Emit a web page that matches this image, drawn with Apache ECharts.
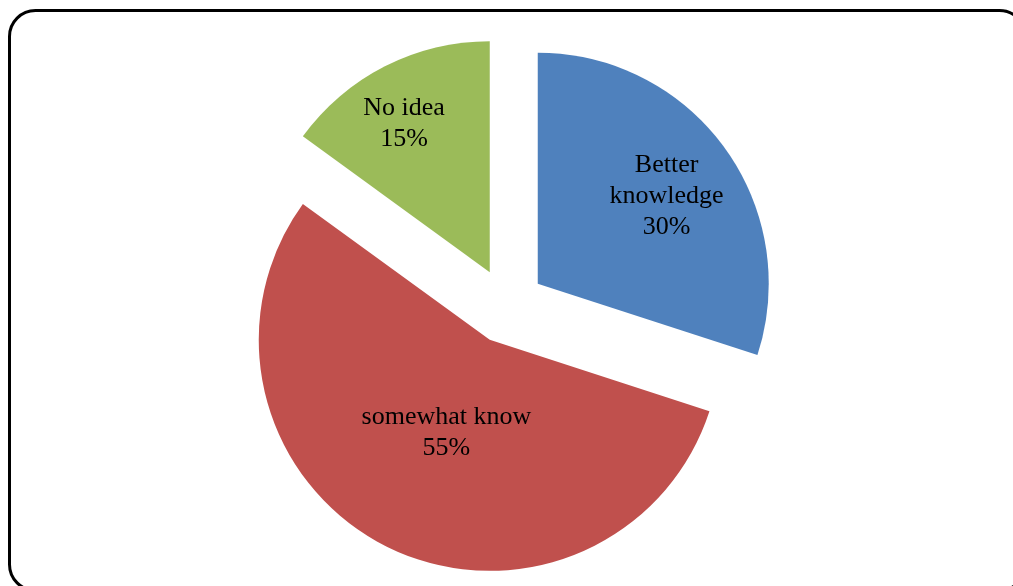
<!DOCTYPE html>
<html>
<head>
<meta charset="utf-8">
<script src="https://cdn.jsdelivr.net/npm/echarts@6/dist/echarts.min.js"></script>
<style>
  html, body { margin: 0; padding: 0; background: #ffffff; }
  #chart { width: 1013px; height: 586px; }
</style>
</head>
<body>
<div id="chart"></div>
<script>
// Survey answers and their shares (percent)
const categories = ['Better knowledge', 'somewhat know', 'No idea'];
const shares = [30, 55, 15];
const sliceColors = ['#4F81BD', '#C0504D', '#9BBB59'];

// Label placement inside each slice: distance from the slice tip (fraction of
// the radius) and direction (degrees clockwise from 12 o'clock)
const labelRadialFraction = [0.66, 0.43, 0.73];
const labelAngleDeg = [56, 205, 330];

const RADIUS = 231;
const EXPLODE = 38;

const total = shares.reduce((a, b) => a + b, 0);

// Shift of each label away from ECharts' default inside spot (half the radius
// along the slice bisector)
const labelShift = [];
let acc = 0;
shares.forEach((v, i) => {
  const mid = (acc + v / 2) / total * 2 * Math.PI;
  acc += v;
  const a = labelAngleDeg[i] * Math.PI / 180;
  const d = labelRadialFraction[i] * RADIUS;
  const h = 0.5 * RADIUS;
  labelShift.push([
    Math.sin(a) * d - Math.sin(mid) * h,
    -Math.cos(a) * d + Math.cos(mid) * h
  ]);
});

const pieData = categories.map((name, i) => ({
  name: name,
  value: shares[i],
  selected: true,
  itemStyle: { color: sliceColors[i] },
  select: { itemStyle: { color: sliceColors[i] } }
}));

const chart = echarts.init(document.getElementById('chart'), null, { renderer: 'canvas' });
chart.setOption({
  animation: false,
  backgroundColor: '#ffffff',
  graphic: [{
    type: 'rect',
    shape: { x: 9.5, y: 10.5, width: 1016, height: 580, r: 26 },
    style: { fill: 'none', stroke: '#000000', lineWidth: 3 },
    silent: true
  }],
  series: [{
    type: 'pie',
    center: [507, 306],
    radius: [0, RADIUS],
    startAngle: 90,
    clockwise: true,
    selectedMode: 'multiple',
    selectedOffset: EXPLODE,
    avoidLabelOverlap: false,
    label: {
      show: true,
      position: 'inside',
      formatter: function (p) {
        const name = p.name === 'Better knowledge' ? 'Better\nknowledge' : p.name;
        return name + '\n' + p.value + '%';
      },
      color: '#000000',
      fontFamily: '"Liberation Serif", "Times New Roman", serif',
      fontSize: 26,
      lineHeight: 31,
      align: 'center',
      verticalAlign: 'middle'
    },
    labelLayout: function (params) {
      const s = labelShift[params.dataIndex];
      return { dx: s[0], dy: s[1] };
    },
    labelLine: { show: false },
    emphasis: { disabled: true },
    itemStyle: { borderWidth: 0 },
    data: pieData
  }]
});
</script>
</body>
</html>
